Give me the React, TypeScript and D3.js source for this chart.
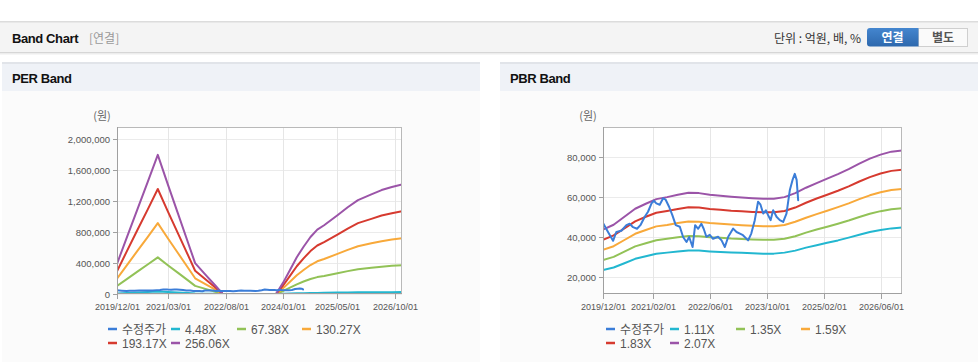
import React from 'react';
import * as d3 from 'd3';

// ---------- data ----------
const X_START = '2019-12-01';
const X_END = '2026-12-01';

const PRICE_DATES = [
  '2019-12-01','2020-01-13','2020-02-25','2020-03-24','2020-05-06','2020-06-18','2020-07-16','2020-08-14','2020-09-17','2020-10-16',
  '2020-11-22','2020-12-20','2021-01-19','2021-02-08','2021-03-01','2021-03-30','2021-04-28','2021-05-20','2021-06-18','2021-07-16',
  '2021-08-14','2021-09-18','2021-10-16','2021-11-14','2021-12-07','2022-01-05','2022-01-27','2022-02-22','2022-03-21','2022-04-10',
  '2022-05-03','2022-06-01','2022-06-29','2022-08-11','2022-09-10','2022-10-08','2022-11-06','2022-12-18','2023-01-16','2023-02-14',
  '2023-03-12','2023-04-25','2023-05-22','2023-06-21','2023-07-19','2023-08-09','2023-09-01','2023-09-24','2023-10-13','2023-11-03',
  '2023-11-25','2023-12-24','2024-01-21','2024-02-19','2024-03-18','2024-04-16','2024-05-09','2024-05-28','2024-06-13','2024-06-26'
];
const PRICE_VALUES = [
  46900,42400,38000,42400,43000,45800,46500,44800,44000,45800,
  50000,52500,56700,58000,56700,56000,59200,58500,55000,50800,
  45800,45000,39900,37400,39900,34900,45800,44000,46500,44000,
  40000,41000,39000,40000,38200,34900,40000,44100,42400,41600,
  40800,38200,41600,48300,57500,56000,51600,53200,50800,48300,
  53300,50000,48300,47400,51600,63400,68400,71400,68400,58300
];

// PER band
const PER_DATES = [
  '2019-12-01','2020-03-01','2020-06-01','2020-09-01','2020-12-01','2021-03-01','2021-06-01','2021-09-01','2021-11-01','2022-02-01','2022-05-01','2022-07-01',
  '2023-01-01',
  '2023-11-01','2024-01-01','2024-03-01','2024-05-01','2024-07-01','2024-09-01','2024-11-01','2025-01-01','2025-05-01','2025-08-01','2025-11-01','2026-03-01','2026-06-01','2026-09-01','2026-12-01'
];
const PER_4_48 = [6800,13000,19100,25300,31400,24800,18100,11400,7000,4400,1900,200,null,200,2600,5400,8300,10700,12900,14500,15500,17800,19600,21200,22500,23500,24200,24800];
const PER_67_38 = [103000,195000,288000,380000,473000,372000,272000,172000,105000,66000,29000,3000,null,3000,39000,82000,125000,161000,193000,218000,233000,268000,295000,319000,338000,353000,363000,372000];
const PER_130_27 = [198000,377000,556000,735000,914000,720000,526000,332000,203000,127000,56000,5000,null,5000,76000,158000,242000,310000,374000,422000,451000,517000,570000,617000,654000,682000,702000,720000];
const PER_193_17 = [294000,559000,825000,1089000,1355000,1067000,779000,492000,300000,189000,83000,8000,null,8000,113000,234000,358000,460000,554000,626000,669000,767000,845000,914000,969000,1012000,1041000,1067000];
const PER_256_06 = [390000,741000,1093000,1444000,1796000,1415000,1033000,652000,398000,250000,110000,10000,null,10000,150000,310000,475000,610000,735000,830000,887000,1017000,1120000,1212000,1285000,1341000,1380000,1415000];
const PER_LABELS = ['수정주가','4.48X','67.38X','130.27X','193.17X','256.06X'];
const PER_X_TICKS = ['2019-12-01','2021-03-01','2022-08-01','2024-01-01','2025-05-01','2026-10-01'];
const PER_Y_TICKS = [0,400000,800000,1200000,1600000,2000000];
const PER_Y_MIN = 0;
const PER_Y_MAX = 2155000;

// PBR band
const PBR_DATES = [
  '2019-12-01','2020-03-01','2020-06-01','2020-09-01','2020-12-01','2021-03-01','2021-06-01','2021-09-01','2021-12-01','2022-03-01',
  '2022-06-01','2022-09-01','2022-12-01','2023-03-01','2023-06-01','2023-09-01','2023-12-01','2024-03-01','2024-06-01','2024-09-01',
  '2024-12-01','2025-03-01','2025-06-01','2025-09-01','2025-12-01','2026-03-01','2026-06-01','2026-09-01','2026-12-01'
];
const PBR_1_11 = [23400,24700,26800,29000,30300,31500,32100,32700,33200,33100,32700,32400,32200,32000,31800,31600,31600,32100,33100,34600,35800,37000,38200,39600,41000,42400,43400,44200,44600];
const PBR_1_35 = [28400,30000,32600,35200,36800,38300,39000,39800,40400,40300,39800,39500,39100,38900,38700,38500,38500,39000,40300,42100,43600,45000,46500,48100,49900,51500,52800,53800,54200];
const PBR_1_59 = [33500,35300,38400,41500,43400,45200,45900,46900,47600,47500,46900,46500,46100,45800,45500,45300,45300,45900,47500,49500,51300,53000,54800,56700,58800,60700,62200,63400,63800];
const PBR_1_83 = [38500,40700,44200,47700,50000,52000,52900,53900,54800,54600,53900,53500,53000,52700,52400,52200,52200,52900,54600,57000,59100,61000,63000,65200,67600,69800,71600,72900,73500];
const PBR_2_07 = [43600,46000,50000,54000,56500,58800,59800,61000,62000,61800,61000,60500,60000,59600,59300,59000,59000,59800,61800,64500,66800,69000,71300,73800,76500,79000,81000,82500,83100];
const PBR_LABELS = ['수정주가','1.11X','1.35X','1.59X','1.83X','2.07X'];
const PBR_X_TICKS = ['2019-12-01','2021-02-01','2022-06-01','2023-10-01','2025-02-01','2026-06-01'];
const PBR_Y_TICKS = [20000,40000,60000,80000];
const PBR_Y_MIN = 11450;
const PBR_Y_MAX = 94800;

const COLORS = ['#3b7dd8', '#22b7d0', '#92c257', '#f8a93a', '#d63a2f', '#9b54a8'];

// ---------- helpers ----------
const parse = d3.timeParse('%Y-%m-%d');
const fmt = d3.timeFormat('%Y/%m/%d');
const numFmt = d3.format(',');
const FONT = '"Liberation Sans", Arial, Helvetica, sans-serif';
const KFONT = '"Noto Sans CJK KR", "Liberation Sans", Arial, sans-serif';

type Pt = [Date, number | null];

function BandChart(props: any) {
  const { id, left, right, top, bottom, yMin, yMax, bandDates, bands, xTicks, yTicks, labels, legendPos } = props;
  const x = d3.scaleTime().domain([parse(X_START)!, parse(X_END)!]).range([left, right]);
  const y = d3.scaleLinear().domain([yMin, yMax]).range([bottom, top]);
  const line = d3.line<Pt>()
    .defined(d => d[1] != null)
    .x(d => x(d[0]))
    .y(d => y(d[1] as number));

  const bandPts: Pt[][] = bands.map((vals: (number | null)[]) =>
    bandDates.map((ds: string, i: number) => [parse(ds)!, vals[i]] as Pt));
  const pricePts: Pt[] = PRICE_DATES.map((ds, i) => [parse(ds)!, PRICE_VALUES[i]] as Pt);

  return (
    <g>
      <defs>
        <clipPath id={id}>
          <rect x={left} y={top} width={right - left} height={bottom - top} />
        </clipPath>
      </defs>
      <rect x={left} y={top} width={right - left} height={bottom - top} fill="#ffffff" />
      {/* grid */}
      {yTicks.map((t: number) => (
        <line key={'gy' + t} x1={left} x2={right} y1={Math.round(y(t)) + 0.5} y2={Math.round(y(t)) + 0.5} stroke="#ebebeb" strokeWidth={1} />
      ))}
      {xTicks.map((t: string) => (
        <line key={'gx' + t} x1={Math.round(x(parse(t)!)) + 0.5} x2={Math.round(x(parse(t)!)) + 0.5} y1={top} y2={bottom} stroke="#e6e6e6" strokeWidth={1} />
      ))}
      {/* series */}
      <g clipPath={`url(#${id})`} fill="none" strokeLinejoin="round" strokeLinecap="round">
        {bandPts.map((pts, i) => (
          <path key={'b' + i} d={line(pts) || ''} stroke={COLORS[i + 1]} strokeWidth={2} />
        ))}
        <path d={line(pricePts) || ''} stroke={COLORS[0]} strokeWidth={2} />
      </g>
      {/* border */}
      <rect x={left + 0.5} y={top + 0.5} width={right - left - 1} height={bottom - top - 1} fill="none" stroke="#b9b9b9" strokeWidth={1} />
      <line x1={left + 0.5} x2={left + 0.5} y1={top} y2={bottom} stroke="#a0a0a0" />
      <line x1={left} x2={right} y1={bottom - 0.5} y2={bottom - 0.5} stroke="#a0a0a0" />
      {/* x ticks */}
      {xTicks.map((t: string) => {
        const xx = Math.round(x(parse(t)!)) + 0.5;
        return (
          <g key={'tx' + t}>
            <line x1={xx} x2={xx} y1={bottom} y2={bottom + 5} stroke="#a0a0a0" />
            <text x={xx} y={bottom + 16} textAnchor="middle" fontSize={9} fill="#555" fontFamily={FONT}>{fmt(parse(t)!)}</text>
          </g>
        );
      })}
      {/* y ticks */}
      {yTicks.map((t: number) => {
        const yy = Math.round(y(t)) + 0.5;
        return (
          <g key={'ty' + t}>
            <line x1={left - 4} x2={left} y1={yy} y2={yy} stroke="#a0a0a0" />
            <text x={left - 7} y={yy + 3.5} textAnchor="end" fontSize={9.5} fill="#555" fontFamily={FONT}>{numFmt(t)}</text>
          </g>
        );
      })}
      <text x={left - 15} y={120} textAnchor="middle" fontSize={11} fill="#666" fontFamily={KFONT}>(원)</text>
      {/* legend */}
      {labels.map((lb: string, i: number) => {
        const [lx, ly] = legendPos[i];
        return (
          <g key={'lg' + i}>
            <line x1={lx} x2={lx + 9} y1={ly} y2={ly} stroke={COLORS[i]} strokeWidth={2.5} />
            <text x={lx + 14} y={ly + 4.5} fontSize={12} fill="#555" fontFamily={i === 0 ? KFONT : FONT}>{lb}</text>
          </g>
        );
      })}
    </g>
  );
}

function Panel({ x0, x1, title }: any) {
  return (
    <g>
      <rect x={x0} y={62} width={x1 - x0} height={300} fill="#fbfbfb" />
      <rect x={x0} y={62} width={x1 - x0} height={29} fill="#eff2f7" />
      <rect x={x0} y={62} width={x1 - x0} height={2} fill="#e1e4e9" />
      <text x={x0 + 10} y={83} fontSize={13} fontWeight="bold" fill="#111" fontFamily={FONT} letterSpacing={-0.4}>{title}</text>
    </g>
  );
}

export default function App() {
  const perLegend = [[108, 329], [171, 329], [237, 329], [302, 329], [108, 343], [171, 343]];
  const pbrLegend = [[606, 329], [670, 329], [736, 329], [801, 329], [606, 343], [670, 343]];
  return (
    <svg width={978} height={362} style={{ position: 'absolute', left: 0, top: 0, background: '#ffffff' }}>
      {/* top bar */}
      <rect x={0} y={21} width={978} height={31} fill="#f4f4f4" />
      <rect x={0} y={21} width={978} height={1.5} fill="#dcdcdc" />
      <rect x={0} y={52} width={978} height={1} fill="#d6d6d6" />
      <rect x={0} y={53} width={978} height={1.5} fill="#ededed" />
      <text x={12} y={43} fontSize={13} fontWeight="bold" fill="#111" fontFamily={FONT} letterSpacing={-0.4}>Band Chart</text>
      <text x={89} y={43} fontSize={12} fill="#999" fontFamily={KFONT}>[연결]</text>
      <text x={861} y={42.5} textAnchor="end" fontSize={12} fill="#333" fontFamily={KFONT}>단위 : 억원, 배, %</text>
      <defs>
        <linearGradient id="btnBlue" x1="0" y1="0" x2="0" y2="1">
          <stop offset="0" stopColor="#4486cf" />
          <stop offset="1" stopColor="#2d68ad" />
        </linearGradient>
      </defs>
      <rect x={918.5} y={28.5} width={49} height={18} fill="#fafafa" stroke="#cfcfcf" />
      <path d="M870,28 H918.5 V46.5 H870 Q867,46.5 867,43.5 V31 Q867,28 870,28 Z" fill="url(#btnBlue)" />
      <text x={892.5} y={42} textAnchor="middle" fontSize={12} fontWeight="bold" fill="#ffffff" fontFamily={KFONT}>연결</text>
      <text x={943} y={42} textAnchor="middle" fontSize={12} fontWeight="bold" fill="#555" fontFamily={KFONT}>별도</text>

      <Panel x0={2} x1={480} title="PER Band" />
      <Panel x0={500} x1={978} title="PBR Band" />

      <BandChart
        id="clipPer"
        left={117} right={402} top={127} bottom={294}
        yMin={PER_Y_MIN} yMax={PER_Y_MAX}
        bandDates={PER_DATES}
        bands={[PER_4_48, PER_67_38, PER_130_27, PER_193_17, PER_256_06]}
        xTicks={PER_X_TICKS} yTicks={PER_Y_TICKS}
        labels={PER_LABELS} legendPos={perLegend}
      />
      <BandChart
        id="clipPbr"
        left={603} right={902} top={127} bottom={294}
        yMin={PBR_Y_MIN} yMax={PBR_Y_MAX}
        bandDates={PBR_DATES}
        bands={[PBR_1_11, PBR_1_35, PBR_1_59, PBR_1_83, PBR_2_07]}
        xTicks={PBR_X_TICKS} yTicks={PBR_Y_TICKS}
        labels={PBR_LABELS} legendPos={pbrLegend}
      />
    </svg>
  );
}
